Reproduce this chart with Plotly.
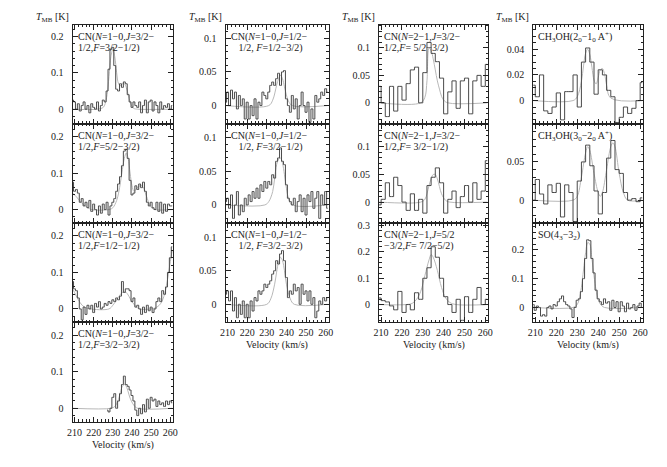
"""Multi-panel line spectra (CN, CH3OH, SO) with Gaussian fits."""

import plotly.graph_objects as go

# ---------------- data: velocity channels (km/s) ----------------
V1 = list(range(209, 262))        # 1 km/s channels
V2 = list(range(209, 262, 2))     # 2 km/s channels
V_CN10_D = list(range(227, 262))  # CN F=3/2-3/2 covers only part of the band

# CN(N=1-0, J=3/2-1/2, F=3/2-1/2)
cn_a = [0.025, 0.02, 0.0, 0.015, -0.005, 0.01, 0.02, 0.0, 0.01, -0.01,
        0.015, 0.005, 0.0, 0.02, -0.005, 0.01, 0.025, 0.02, 0.05, 0.11,
        0.165, 0.17, 0.12, 0.055, 0.05, 0.07, 0.06, 0.075, 0.07, 0.04,
        0.02, 0.005, 0.02, 0.01, 0.005, 0.02, -0.01, 0.01, 0.025, -0.01,
        0.02, 0.025, -0.005, 0.02, 0.01, -0.01, 0.02, 0.0, 0.01, 0.005,
        0.015, 0.0, 0.01]
cn_a_fit_v = [209, 222, 225, 226, 227, 228, 229, 230, 231, 232, 233, 234, 235,
              236, 237, 238, 239, 240, 241, 243, 261]
cn_a_fit = [0, 0, 0.005, 0.015, 0.04, 0.09, 0.145, 0.165, 0.145, 0.1, 0.07,
            0.065, 0.07, 0.07, 0.06, 0.04, 0.02, 0.008, 0.002, 0, 0]

# CN(N=1-0, J=3/2-1/2, F=5/2-3/2)
cn_b = [0.075, 0.05, 0.055, 0.045, 0.02, 0.03, 0.01, 0.02, 0.005, 0.025,
        -0.005, 0.015, 0.0, -0.015, 0.01, -0.01, 0.015, 0.0, 0.02, -0.015,
        0.01, 0.02, 0.03, 0.05, 0.07, 0.09, 0.12, 0.16, 0.165, 0.14,
        0.08, 0.04, 0.045, 0.065, 0.055, 0.07, 0.06, 0.075, 0.05, 0.02,
        0.01, 0.02, 0.005, 0.0, 0.02, -0.005, 0.02, -0.01, 0.015, -0.005,
        0.015, 0.01, 0.01]
cn_b_fit_v = [209, 211, 213, 215, 217, 219, 228, 230, 232, 233, 234, 235, 236,
              237, 238, 239, 240, 241, 242, 243, 244, 245, 246, 247, 248, 249,
              250, 252, 261]
cn_b_fit = [0.045, 0.035, 0.022, 0.012, 0.005, 0, 0, 0.005, 0.025, 0.045,
            0.075, 0.11, 0.14, 0.155, 0.14, 0.1, 0.065, 0.05, 0.055, 0.06,
            0.065, 0.065, 0.06, 0.045, 0.03, 0.015, 0.006, 0, 0]

# CN(N=1-0, J=3/2-1/2, F=1/2-1/2)
cn_c = [0.075, 0.055, 0.05, 0.03, 0.0, -0.03, 0.005, -0.015, 0.01, 0.0,
        0.01, -0.01, 0.015, 0.005, 0.02, 0.0, 0.005, 0.015, 0.01, 0.02,
        0.015, 0.025, 0.02, 0.03, 0.025, 0.035, 0.075, 0.045, 0.055, 0.055,
        0.05, 0.02, 0.03, 0.005, 0.01, 0.0, -0.015, 0.005, -0.01, 0.01,
        -0.005, 0.005, -0.01, 0.0, 0.02, 0.03, 0.02, 0.05, 0.04, 0.06,
        0.1, 0.14, 0.17]
cn_c_fit_v = [209, 210, 212, 214, 216, 218, 228, 230, 232, 234, 235, 236, 237,
              238, 240, 242, 244, 250, 253, 255, 257, 258, 259, 260, 261]
cn_c_fit = [0.055, 0.045, 0.025, 0.01, 0.003, 0, 0, 0.01, 0.025, 0.04, 0.045,
            0.047, 0.045, 0.038, 0.02, 0.007, 0, 0, 0.005, 0.015, 0.04, 0.065,
            0.095, 0.13, 0.16]

# CN(N=1-0, J=3/2-1/2, F=3/2-3/2)
cn_d = [-0.005, -0.01, 0.0, 0.03, 0.04, 0.0, 0.02, 0.04, 0.065, 0.088,
        0.065, 0.06, 0.05, 0.035, 0.02, -0.005, -0.02, 0.0, -0.015, 0.01,
        -0.01, 0.025, 0.0, 0.03, 0.02, 0.025, 0.005, 0.02, 0.01, 0.015,
        0.005, 0.02, 0.01, 0.02, 0.015]
cn_d_fit_v = [209, 229, 231, 233, 234, 235, 236, 237, 238, 239, 241, 243, 261]
cn_d_fit = [0, 0, 0.005, 0.025, 0.045, 0.06, 0.065, 0.06, 0.045, 0.028, 0.008,
            0, 0]

# CN(N=1-0, J=1/2-1/2, F=1/2-3/2)
cn_e = [0.005, 0.02, 0.0, 0.023, 0.01, 0.02, -0.005, 0.015, 0.0, 0.01,
        -0.02, 0.005, -0.02, 0.0, -0.015, 0.01, -0.02, 0.005, 0.0, 0.02,
        0.015, 0.01, 0.02, 0.03, 0.035, 0.03, 0.04, 0.048, 0.03, 0.05,
        0.052, 0.01, 0.0, -0.01, 0.015, -0.005, 0.01, -0.02, 0.0, 0.02,
        0.0, -0.01, 0.005, -0.025, -0.005, -0.02, 0.015, 0.005, 0.01, 0.02,
        0.015, 0.025, 0.02]
cn_e_fit_v = [209, 231, 233, 235, 236, 237, 238, 239, 241, 243, 261]
cn_e_fit = [0, 0, 0.008, 0.03, 0.04, 0.045, 0.04, 0.028, 0.007, 0, 0]

# CN(N=1-0, J=1/2-1/2, F=3/2-1/2)
cn_f = [0.005, 0.01, -0.005, 0.015, -0.02, 0.0, 0.02, -0.015, 0.0, -0.01,
        0.01, 0.0, 0.015, 0.005, 0.02, 0.01, 0.025, 0.01, 0.03, 0.02,
        0.035, 0.025, 0.035, 0.03, 0.045, 0.04, 0.065, 0.07, 0.085, 0.065,
        0.06, 0.03, 0.01, 0.005, 0.0, 0.01, -0.01, 0.005, 0.015, -0.01,
        0.01, -0.015, 0.015, 0.005, 0.02, -0.005, 0.01, 0.02, -0.02, 0.015,
        0.0, 0.02, -0.005]
cn_f_fit_v = [209, 229, 231, 233, 234, 235, 236, 237, 238, 239, 240, 241, 243,
              261]
cn_f_fit = [0, 0, 0.005, 0.02, 0.04, 0.06, 0.068, 0.07, 0.062, 0.045, 0.025,
            0.01, 0, 0]

# CN(N=1-0, J=1/2-1/2, F=3/2-3/2)
cn_g = [0.015, 0.02, 0.005, 0.02, -0.01, 0.01, -0.02, 0.0, -0.015, 0.005,
        -0.02, 0.0, -0.02, 0.005, -0.01, 0.01, 0.005, 0.02, 0.015, 0.02,
        0.03, 0.025, 0.03, 0.035, 0.045, 0.05, 0.065, 0.06, 0.075, 0.08,
        0.065, 0.04, 0.01, 0.02, 0.015, 0.03, 0.02, 0.025, 0.0, 0.03,
        0.015, 0.02, 0.005, 0.02, 0.0, 0.01, -0.02, -0.01, 0.005, 0.0,
        0.01, 0.005, 0.01]
cn_g_fit_v = [209, 230, 232, 234, 235, 236, 237, 238, 239, 240, 242, 244, 261]
cn_g_fit = [0, 0, 0.008, 0.03, 0.048, 0.063, 0.07, 0.065, 0.05, 0.03, 0.008,
            0, 0]

# CN(N=2-1, J=3/2-1/2, F=5/2-3/2)
cn21_a = [0.03, 0.0, -0.025, 0.03, -0.015, 0.03, 0.005, 0.035, 0.06, 0.065,
          0.0, 0.055, 0.11, 0.09, 0.075, 0.045, -0.02, 0.02, 0.04, -0.01,
          0.04, 0.045, -0.02, 0.04, 0.05, 0.03, 0.07]
cn21_a_fit_v = [209, 229, 231, 232, 233, 234, 235, 236, 237, 238, 239, 240,
                242, 261]
cn21_a_fit = [0, 0, 0.01, 0.04, 0.1, 0.095, 0.08, 0.06, 0.04, 0.025, 0.012,
              0.005, 0, 0]

# CN(N=2-1, J=3/2-1/2, F=3/2-1/2)
cn21_b = [-0.005, 0.005, 0.035, 0.01, 0.045, 0.03, 0.0, -0.015, 0.015, -0.015,
          0.005, -0.02, 0.03, 0.045, 0.062, 0.035, -0.02, 0.005, 0.02, -0.01,
          0.01, 0.03, 0.0, 0.035, 0.005, 0.02, 0.075]
cn21_b_fit_v = [209, 229, 231, 232, 233, 234, 235, 236, 237, 238, 239, 241,
                243, 261]
cn21_b_fit = [0, 0, 0.005, 0.015, 0.03, 0.042, 0.05, 0.05, 0.042, 0.028,
              0.015, 0.003, 0, 0]

# CN(N=2-1, J=5/2-3/2, F=7/2-5/2)
cn21_c = [0.025, 0.015, 0.01, -0.005, -0.02, 0.05, -0.03, 0.0, -0.02, 0.045,
          0.02, 0.1, 0.14, 0.22, 0.18, 0.1, 0.03, 0.0, -0.03, 0.02,
          -0.06, 0.03, -0.03, 0.02, 0.065, 0.0, 0.02]
cn21_c_fit_v = [209, 222, 225, 227, 229, 231, 233, 234, 235, 237, 239, 241,
                243, 246, 261]
cn21_c_fit = [0, 0, 0.005, 0.02, 0.05, 0.11, 0.17, 0.19, 0.18, 0.13, 0.065,
              0.025, 0.008, 0, 0]

# CH3OH(2_0-1_0 A+)
ch3oh_a = [0.012, 0.003, 0.02, -0.008, -0.01, -0.005, 0.006, -0.015, 0.007,
           0.007, 0.02, -0.005, 0.03, 0.041, 0.03, 0.005, 0.024, 0.02, 0.008,
           0.003, -0.017, -0.013, -0.005, -0.01, -0.006, 0.0, 0.014]
ch3oh_a_fit_v = [209, 228, 230, 232, 233, 234, 235, 236, 237, 238, 239, 240,
                 241, 242, 243, 244, 246, 261]
ch3oh_a_fit = [0, 0, 0.003, 0.015, 0.027, 0.037, 0.04, 0.036, 0.026, 0.016,
               0.013, 0.018, 0.024, 0.025, 0.021, 0.012, 0.002, 0]

# CH3OH(3_0-2_0 A+)
ch3oh_b = [0.0, 0.027, 0.008, -0.005, 0.02, 0.01, 0.022, -0.022, 0.02, 0.01,
           -0.028, 0.025, 0.05, 0.072, 0.045, 0.012, -0.018, 0.01, 0.055,
           0.078, 0.04, 0.035, 0.01, 0.0, 0.002, -0.002, 0.003]
ch3oh_b_fit_v = [209, 228, 230, 232, 234, 235, 236, 238, 240, 241, 242, 244,
                 246, 247, 248, 250, 252, 254, 261]
ch3oh_b_fit = [0, 0, 0.005, 0.03, 0.062, 0.07, 0.065, 0.035, 0.01, 0.005, 0.01,
               0.04, 0.07, 0.075, 0.07, 0.035, 0.01, 0, 0]

# SO(4_3-3_2)
so = [0.01, -0.01, 0.005, 0.0, -0.03, -0.025, -0.03, 0.0, 0.005, -0.005,
      0.01, 0.005, 0.02, 0.03, 0.04, 0.02, 0.01, 0.005, -0.005, -0.035,
      0.0, 0.025, 0.03, 0.055, 0.1, 0.17, 0.235, 0.232, 0.17, 0.12,
      0.06, 0.03, 0.02, 0.01, 0.03, 0.015, 0.02, -0.01, 0.025, 0.0,
      0.02, -0.015, 0.02, 0.005, -0.015, 0.015, -0.005, 0.0, 0.01, -0.01,
      0.005, 0.015, 0.0]
so_fit_v = [209, 228, 230, 231, 232, 233, 234, 235, 236, 237, 238, 239, 240,
            241, 243, 261]
so_fit = [0, 0, 0.01, 0.03, 0.07, 0.13, 0.19, 0.225, 0.22, 0.17, 0.11, 0.06,
          0.028, 0.012, 0, 0]

# ---------------- panel labels ----------------
LBL_CN_A = ["CN(<i>N</i>=1−0,<i>J</i>=3/2−", "1/2,<i>F</i>=3/2−1/2)"]
LBL_CN_B = ["CN(<i>N</i>=1−0,<i>J</i>=3/2−", "1/2,<i>F</i>=5/2−3/2)"]
LBL_CN_C = ["CN(<i>N</i>=1−0,<i>J</i>=3/2−", "1/2,<i>F</i>=1/2−1/2)"]
LBL_CN_D = ["CN(<i>N</i>=1−0,<i>J</i>=3/2−", "1/2,<i>F</i>=3/2−3/2)"]
LBL_CN_E = ["CN(<i>N</i>=1−0,<i>J</i>=1/2−", "   1/2, <i>F</i>=1/2−3/2)"]
LBL_CN_F = ["CN(<i>N</i>=1−0,<i>J</i>=1/2−", "   1/2, <i>F</i>=3/2−1/2)"]
LBL_CN_G = ["CN(<i>N</i>=1−0,<i>J</i>=1/2−", "   1/2, <i>F</i>=3/2−3/2)"]
LBL_CN21_A = ["CN(<i>N</i>=2−1,<i>J</i>=3/2−", "1/2,<i>F</i>= 5/2−3/2)"]
LBL_CN21_B = ["CN(<i>N</i>=2−1,<i>J</i>=3/2−", "1/2,<i>F</i>= 3/2−1/2)"]
LBL_CN21_C = ["CN(<i>N</i>=2−1,<i>J</i>=5/2", "−3/2,<i>F</i>= 7/2−5/2)"]
LBL_CH3OH_A = ["CH<sub>3</sub>OH(2<sub>0</sub>−1<sub>0</sub> A<sup>+</sup>)"]
LBL_CH3OH_B = ["CH<sub>3</sub>OH(3<sub>0</sub>−2<sub>0</sub> A<sup>+</sup>)"]
LBL_SO = ["SO(4<sub>3</sub>−3<sub>2</sub>)"]

X_TICKS = [210, 220, 230, 240, 250, 260]

# ---------------- layout geometry (pixels) ----------------
W, H = 667, 467
COL_X = [(67.7, 170.0), (223.3, 328.0), (379.3, 490.5), (536.0, 648.0)]
ROW_Y = [(22.0, 121.5), (121.5, 221.5), (221.5, 321.5), (321.5, 421.5)]
X_RANGE = [209, 261.5]

panels = [
    # col, row, v, spec, fit_v, fit, yrange, yticks, yminor, label
    (0, 0, V1, cn_a, cn_a_fit_v, cn_a_fit, [-0.04, 0.232], [0, 0.1, 0.2], 0.02, LBL_CN_A),
    (0, 1, V1, cn_b, cn_b_fit_v, cn_b_fit, [-0.037, 0.235], [0, 0.1, 0.2], 0.02, LBL_CN_B),
    (0, 2, V1, cn_c, cn_c_fit_v, cn_c_fit, [-0.037, 0.235], [0, 0.1, 0.2], 0.02, LBL_CN_C),
    (0, 3, V_CN10_D, cn_d, cn_d_fit_v, cn_d_fit, [-0.037, 0.235], [0, 0.1, 0.2], 0.02, LBL_CN_D),
    (1, 0, V1, cn_e, cn_e_fit_v, cn_e_fit, [-0.027, 0.12], [0, 0.05, 0.1], 0.01, LBL_CN_E),
    (1, 1, V1, cn_f, cn_f_fit_v, cn_f_fit, [-0.027, 0.121], [0, 0.05, 0.1], 0.01, LBL_CN_F),
    (1, 2, V1, cn_g, cn_g_fit_v, cn_g_fit, [-0.027, 0.121], [0, 0.05, 0.1], 0.01, LBL_CN_G),
    (2, 0, V2, cn21_a, cn21_a_fit_v, cn21_a_fit, [-0.038, 0.142], [0, 0.05, 0.1], 0.01, LBL_CN21_A),
    (2, 1, V2, cn21_b, cn21_b_fit_v, cn21_b_fit, [-0.038, 0.142], [0, 0.05, 0.1], 0.01, LBL_CN21_B),
    (2, 2, V2, cn21_c, cn21_c_fit_v, cn21_c_fit, [-0.068, 0.31], [0, 0.1, 0.2, 0.3], 0.02, LBL_CN21_C),
    (3, 0, V2, ch3oh_a, ch3oh_a_fit_v, ch3oh_a_fit, [-0.018, 0.059], [0, 0.02, 0.04], 0.005, LBL_CH3OH_A),
    (3, 1, V2, ch3oh_b, ch3oh_b_fit_v, ch3oh_b_fit, [-0.03, 0.1], [0, 0.05], 0.01, LBL_CH3OH_B),
    (3, 2, V1, so, so_fit_v, so_fit, [-0.052, 0.293], [0, 0.1, 0.2], 0.02, LBL_SO),
]

FONT = "Liberation Serif"
INK = "#222222"
SPEC_COLOR = "#4a4a4a"
FIT_COLOR = "#b8b8b8"

bottom_row = {0: 3, 1: 2, 2: 2, 3: 2}

fig = go.Figure()
annotations = []
for i, (col, row, v, spec, fv, fit, yr, yt, ym, label) in enumerate(panels):
    n = "" if i == 0 else str(i + 1)
    xa, ya = "x" + n, "y" + n
    x0, x1 = COL_X[col]
    y0, y1 = ROW_Y[row]
    is_bottom = bottom_row[col] == row

    fig.add_trace(go.Scatter(
        x=fv, y=fit, xaxis=xa, yaxis=ya, mode="lines", line_shape="spline",
        line=dict(color=FIT_COLOR, width=1), hoverinfo="skip", showlegend=False,
    ))
    fig.add_trace(go.Scatter(
        x=v, y=spec, xaxis=xa, yaxis=ya, mode="lines", line_shape="hvh",
        line=dict(color=SPEC_COLOR, width=1), showlegend=False,
    ))

    fig.layout["xaxis" + n] = dict(
        domain=[x0 / W, x1 / W], anchor=ya, range=X_RANGE,
        tickmode="array", tickvals=X_TICKS, showticklabels=is_bottom,
        ticks="inside", ticklen=5, tickwidth=1, tickcolor=INK,
        minor=dict(ticks="inside", ticklen=2.5, dtick=2, tick0=0, tickcolor=INK),
        showline=True, linecolor=INK, linewidth=1, mirror="allticks",
        showgrid=False, zeroline=False, ticklabelstandoff=1,
        tickfont=dict(family=FONT, size=10, color=INK),
    )
    fig.layout["yaxis" + n] = dict(
        domain=[1 - y1 / H, 1 - y0 / H], anchor=xa, range=yr,
        tickmode="array", tickvals=yt,
        ticks="inside", ticklen=5, tickwidth=1, tickcolor=INK,
        minor=dict(ticks="inside", ticklen=2.5, dtick=ym, tick0=0, tickcolor=INK),
        showline=True, linecolor=INK, linewidth=1, mirror="allticks",
        showgrid=False, zeroline=False, ticklabelstandoff=6,
        tickfont=dict(family=FONT, size=10, color=INK),
    )

    for k, line in enumerate(label):
        annotations.append(dict(
            text=line, xref="paper", yref="paper", showarrow=False,
            x=(x0 + 3) / W, y=1 - (y0 + 12 + 11 * k) / H,
            xanchor="left", yanchor="middle",
            font=dict(family=FONT, size=10, color=INK),
        ))

    if is_bottom:
        annotations.append(dict(
            text="Velocity (km/s)", xref="paper", yref="paper", showarrow=False,
            x=(x0 + x1) / 2 / W, y=1 - (y1 + 23) / H,
            xanchor="center", yanchor="middle",
            font=dict(family=FONT, size=10, color=INK),
        ))

for col in range(4):
    annotations.append(dict(
        text="<i>T</i><sub>MB</sub> [K]", xref="paper", yref="paper",
        showarrow=False, x=(COL_X[col][0] - 2) / W, y=1 - 15 / H,
        xanchor="right", yanchor="middle",
        font=dict(family=FONT, size=10, color=INK),
    ))

fig.update_layout(
    width=W, height=H,
    margin=dict(l=0, r=0, t=0, b=0),
    paper_bgcolor="white", plot_bgcolor="white",
    annotations=annotations,
)

# the page's default 8px body margin would shift the figure
fig.write_html(
    "out.html",
    config={"displayModeBar": False},
    post_script="document.body.style.margin='0';document.body.style.overflow='hidden';",
)
